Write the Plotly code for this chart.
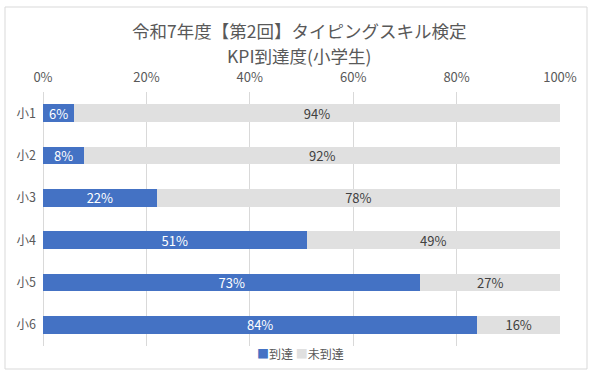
import plotly.graph_objects as go

categories = ["小1", "小2", "小3", "小4", "小5", "小6"]
reached = [6, 8, 22, 51, 73, 84]
not_reached = [94, 92, 78, 49, 27, 16]
series_names = ["到達", "未到達"]
title_lines = ["令和7年度【第2回】タイピングスキル検定", "KPI到達度(小学生)"]

FONT = "Noto Sans CJK JP"
TXT = "#595959"
BLUE = "#4472C4"
GRAY = "#E0E0E0"

W, H = 595, 381
L, R, T, B = 43, 35, 92, 35
PW, PH = W - L - R, H - T - B


def px(x):
    return (x - L) / PW


def py(y):
    return (H - B - y) / PH


fig = go.Figure()
fig.add_trace(go.Bar(
    y=categories, x=reached, name=series_names[0], orientation="h",
    marker=dict(color=BLUE, line=dict(width=0)),
    text=[f"{v}%" for v in reached], textposition="inside",
    insidetextanchor="middle", textangle=0, constraintext="none",
    textfont=dict(color="white", size=13, family=FONT),
    hoverinfo="skip", showlegend=False,
))
fig.add_trace(go.Bar(
    y=categories, x=not_reached, name=series_names[1], orientation="h",
    marker=dict(color=GRAY, line=dict(width=0)),
    text=[f"{v}%" for v in not_reached], textposition="inside",
    insidetextanchor="middle", textangle=0, constraintext="none",
    textfont=dict(color="#404040", size=13, family=FONT),
    hoverinfo="skip", showlegend=False,
))

annotations = [
    dict(text=title_lines[0], xref="paper", yref="paper", x=px(299), y=py(31),
         xanchor="center", yanchor="middle", showarrow=False,
         font=dict(size=17.5, color=TXT, family=FONT)),
    dict(text=title_lines[1], xref="paper", yref="paper", x=px(299), y=py(55),
         xanchor="center", yanchor="middle", showarrow=False,
         font=dict(size=17.5, color=TXT, family=FONT)),
    dict(text=(f"<span style='color:{BLUE}'>■</span>{series_names[0]} "
               f"<span style='color:{GRAY}'>■</span>{series_names[1]}"),
         xref="paper", yref="paper", x=px(300), y=py(353),
         xanchor="center", yanchor="middle", showarrow=False,
         font=dict(size=12, color=TXT, family=FONT)),
]

fig.update_layout(
    width=W, height=H,
    barmode="stack", bargap=0.59,
    paper_bgcolor="white", plot_bgcolor="white",
    font=dict(family=FONT, color=TXT, size=12.5),
    margin=dict(l=L, r=R, t=T, b=B),
    showlegend=False,
    xaxis=dict(
        range=[0, 100], dtick=20, ticksuffix="%", side="top",
        showgrid=True, gridcolor="#D9D9D9", gridwidth=1,
        zeroline=True, zerolinecolor="#D9D9D9", zerolinewidth=1,
        showline=False, ticks="", ticklabelstandoff=6,
        tickfont=dict(size=13, color=TXT), fixedrange=True,
    ),
    yaxis=dict(
        autorange="reversed", showgrid=False, showline=False, ticks="",
        ticklabelstandoff=6,
        tickfont=dict(size=12.5, color=TXT), fixedrange=True,
    ),
    annotations=annotations,
    shapes=[dict(
        type="rect", xref="paper", yref="paper",
        x0=px(5), x1=px(587), y0=py(369), y1=py(7),
        line=dict(color="#D9D9D9", width=1), fillcolor="rgba(0,0,0,0)",
        layer="below",
    )],
)

fig.write_html(
    "out.html",
    config={"displayModeBar": False},
    post_script="document.body.style.margin='0';",
)
